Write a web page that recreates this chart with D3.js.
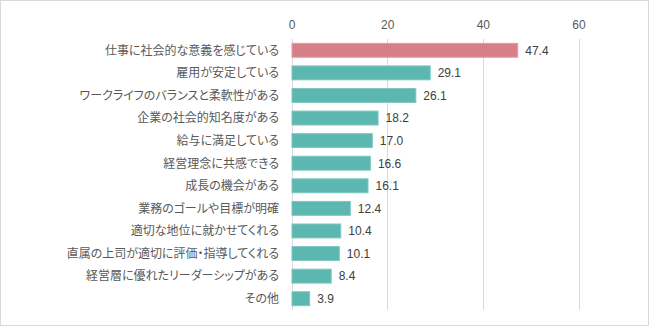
<!DOCTYPE html>
<html><head><meta charset="utf-8">
<script src="https://cdn.jsdelivr.net/npm/d3@7"></script>
<style>
html,body{margin:0;padding:0;background:#fff;}
svg{display:block;}
.cat{font-family:"Noto Sans CJK JP",sans-serif;font-size:12px;fill:#595959;font-feature-settings:"palt" 1;font-kerning:normal;}
.num{font-family:"Liberation Sans",Arial,sans-serif;font-size:12px;fill:#404040;}
.tick text{font-family:"Liberation Sans",Arial,sans-serif;font-size:12px;fill:#595959;}
</style>
</head><body>
<script>
const categories = [
  "仕事に社会的な意義を感じている",
  "雇用が安定している",
  "ワークライフのバランスと柔軟性がある",
  "企業の社会的知名度がある",
  "給与に満足している",
  "経営理念に共感できる",
  "成長の機会がある",
  "業務のゴールや目標が明確",
  "適切な地位に就かせてくれる",
  "直属の上司が適切に評価・指導してくれる",
  "経営層に優れたリーダーシップがある",
  "その他"
];
const values = [47.4, 29.1, 26.1, 18.2, 17.0, 16.6, 16.1, 12.4, 10.4, 10.1, 8.4, 3.9];
const tickValues = [0, 20, 40, 60];
const highlightIndex = 0;

const W = 650, H = 327;
const svg = d3.select("body").append("svg").attr("width", W).attr("height", H);

svg.append("rect").attr("x",0.5).attr("y",0.5).attr("width",648).attr("height",325)
  .attr("fill","#fff").attr("stroke","#d9d9d9");

const x = d3.scaleLinear().domain([0,60]).range([291.5,578.5]);
const y = d3.scaleBand().domain(categories).range([39,310]).paddingInner(0.34).paddingOuter(0.17);

// gridlines
svg.append("g").selectAll("line").data(tickValues).join("line")
  .attr("x1",d=>Math.round(x(d))+0.5).attr("x2",d=>Math.round(x(d))+0.5)
  .attr("y1",39).attr("y2",310)
  .attr("stroke","#d9d9d9").attr("stroke-width",1);

// top axis labels
const ax = svg.append("g").attr("transform","translate(0,29)")
  .call(d3.axisTop(x).tickValues(tickValues).tickSize(0).tickPadding(0).tickFormat(d3.format("d")));
ax.select(".domain").remove();

// bars
svg.append("g").selectAll("rect").data(values).join("rect")
  .attr("x",x(0)+0.5)
  .attr("y",(d,i)=>y(categories[i])+0.5)
  .attr("width",d=>x(d)-x(0)-1)
  .attr("height",y.bandwidth()-1)
  .attr("fill",(d,i)=>i===highlightIndex?"#d77f88":"#5bb7af")
  .attr("stroke",(d,i)=>i===highlightIndex?"#e79aa2":"#7cc8c1")
  .attr("stroke-width",1);

// value labels
svg.append("g").selectAll("text").data(values).join("text")
  .attr("class","num")
  .attr("x",d=>x(d)+7)
  .attr("y",(d,i)=>y(categories[i])+y.bandwidth()/2)
  .attr("dy","0.36em")
  .text(d=>d.toFixed(1));

// category labels (narrow katakana like the original font)
const catG = svg.append("g");
catG.selectAll("text").data(categories).join("text")
  .attr("class","cat")
  .attr("x",279)
  .attr("y",d=>y(d)+y.bandwidth()/2)
  .attr("dy","0.36em")
  .attr("text-anchor","end")
  .style("font-feature-settings","'palt' 1")
  .text(d=>d);
</script>
</body></html>
